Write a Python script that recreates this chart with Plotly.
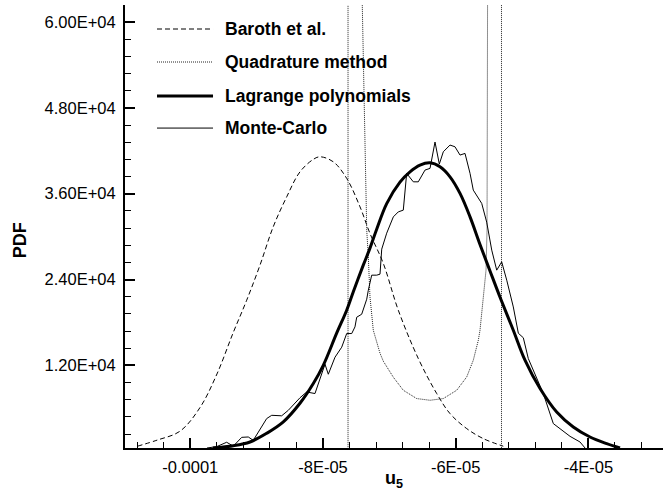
import plotly.graph_objects as go

# ---------------- data ----------------
baroth_x = [-10.80e-5, -10.50e-5, -10.155e-5, -9.854e-5, -9.598e-5, -9.357e-5, -9.150e-5,
            -8.950e-5, -8.749e-5, -8.547e-5, -8.347e-5, -8.146e-5, -8.045e-5, -7.845e-5,
            -7.643e-5, -7.442e-5, -7.292e-5, -7.091e-5, -6.865e-5, -6.564e-5, -6.286e-5,
            -6.086e-5, -5.834e-5, -5.584e-5, -5.283e-5]
baroth_y = [690, 1550, 2800, 6100, 10800, 16490, 21110, 26000, 31400, 35560, 39060, 40800,
            41160, 40460, 38140, 34160, 30440, 26250, 19710, 12960, 8060, 5260, 3160, 1760, 700]

quad_x = [-7.623e-5, -7.623e-5, -7.408e-5, -7.367e-5, -7.341e-5, -7.317e-5, -7.292e-5,
          -7.242e-5, -7.191e-5, -7.141e-5, -7.091e-5, -6.940e-5, -6.790e-5, -6.588e-5,
          -6.387e-5, -6.187e-5, -5.985e-5, -5.834e-5, -5.735e-5, -5.659e-5, -5.634e-5,
          -5.584e-5, -5.543e-5, -5.528e-5, -5.524e-5, -5.520e-5, -5.310e-5, -5.310e-5]
quad_y = [0, 1.0e6, 62380, 42520, 30900, 27170, 21570, 16910, 15380, 13700, 12580, 10340,
          8520, 7360, 7120, 7360, 8520, 10380, 12720, 15520, 16910, 21110, 25310, 30900,
          42100, 62380, 1.0e6, 0]

lag_x = [-9.66e-5, -9.352e-5, -9.100e-5, -8.849e-5, -8.598e-5, -8.347e-5, -8.146e-5,
         -7.996e-5, -7.794e-5, -7.643e-5, -7.543e-5, -7.393e-5, -7.292e-5, -7.191e-5,
         -7.040e-5, -6.840e-5, -6.689e-5, -6.538e-5, -6.387e-5, -6.237e-5, -6.086e-5,
         -5.935e-5, -5.784e-5, -5.634e-5, -5.483e-5, -5.332e-5, -5.132e-5, -4.956e-5,
         -4.729e-5, -4.478e-5, -4.228e-5, -3.976e-5, -3.724e-5, -3.524e-5]
lag_y = [450, 760, 1290, 2500, 4100, 6700, 9460, 12000, 16500, 19710, 22300, 26010, 28390,
         31040, 34620, 37620, 39060, 40000, 40320, 39760, 38360, 36040, 32760, 28900,
         25200, 21530, 16910, 12720, 8760, 5480, 3390, 1990, 1060, 450]

mc_x = [-9.748e-5, -9.602e-5, -9.452e-5, -9.352e-5, -9.225e-5, -9.126e-5, -9.051e-5,
        -8.849e-5, -8.773e-5, -8.623e-5, -8.523e-5, -8.347e-5, -8.246e-5, -8.121e-5,
        -7.970e-5, -7.920e-5, -7.819e-5, -7.718e-5, -7.643e-5, -7.567e-5, -7.518e-5,
        -7.492e-5, -7.417e-5, -7.341e-5, -7.317e-5, -7.266e-5, -7.191e-5, -7.141e-5,
        -7.115e-5, -7.040e-5, -6.940e-5, -6.865e-5, -6.790e-5, -6.739e-5, -6.639e-5,
        -6.564e-5, -6.463e-5, -6.387e-5, -6.312e-5, -6.247e-5, -6.187e-5, -6.086e-5,
        -6.011e-5, -5.935e-5, -5.860e-5, -5.784e-5, -5.735e-5, -5.659e-5, -5.608e-5,
        -5.533e-5, -5.457e-5, -5.382e-5, -5.307e-5, -5.231e-5, -5.132e-5, -5.056e-5,
        -4.981e-5, -4.906e-5, -4.680e-5, -4.529e-5, -4.428e-5, -4.277e-5, -4.127e-5,
        -4.051e-5]
mc_y = [450, 640, 1250, 710, 1940, 1990, 1520, 4560, 5020, 4950, 5720, 7470, 8280, 8060,
        12160, 10760, 13140, 14540, 16450, 16450, 17380, 18730, 19150, 21250, 22510, 24610,
        24610, 24750, 28250, 30480, 32760, 33460, 33700, 38840, 37660, 37660, 39300, 39540,
        43220, 40140, 41860, 42800, 42560, 41400, 41630, 38840, 36500, 35340, 34640, 32020,
        28110, 25310, 26470, 23910, 20170, 16490, 15860, 12950, 8060, 3860, 3160, 2080,
        1290, 450]

x_tickvals = [-1.0e-4, -8.0e-5, -6.0e-5, -4.0e-5]
x_ticktext = ["-0.0001", "-8E-05", "-6E-05", "-4E-05"]
y_tickvals = [12000, 24000, 36000, 48000, 60000]
y_ticktext = ["1.20E+04", "2.40E+04", "3.60E+04", "4.80E+04", "6.00E+04"]

legend_names = ["Baroth et al.", "Quadrature method", "Lagrange polynomials", "Monte-Carlo"]

# ---------------- styles ----------------
FONT = "Liberation Sans, Arial, Helvetica, sans-serif"
styles = [
    dict(color="black", width=1, dash="5px,3px"),
    dict(color="#222222", width=1, dash="1px,1px"),
    dict(color="black", width=3, dash="solid"),
    dict(color="black", width=1, dash="solid"),
]
shapes_ = ["spline", "linear", "spline", "linear"]

fig = go.Figure()
series = [(baroth_x, baroth_y), (quad_x, quad_y), (lag_x, lag_y), (mc_x, mc_y)]
for (xs, ys), st, name, shp in zip(series, styles, legend_names, shapes_):
    ln = dict(st)
    ln["shape"] = shp
    if shp == "spline":
        ln["smoothing"] = 1.0
    fig.add_trace(go.Scatter(x=xs, y=ys, mode="lines", name=name, line=ln,
                             showlegend=False, hoverinfo="skip"))

# manual legend (line samples + bold labels), in paper coordinates
leg_rows = [0.9458, 0.8713, 0.7945, 0.7222]
for st, name, yy in zip(styles, legend_names, leg_rows):
    fig.add_shape(type="line", xref="paper", yref="paper", x0=0.0595, x1=0.1636,
                  y0=yy, y1=yy, line=st)
    fig.add_annotation(xref="paper", yref="paper", x=0.182, y=yy, text="<b>%s</b>" % name,
                       showarrow=False, xanchor="left", yanchor="middle",
                       font=dict(family=FONT, size=17.5, color="black"))

# axis titles
fig.add_annotation(xref="paper", yref="paper", x=-0.195, y=0.469, text="<b>PDF</b>",
                   textangle=-90, showarrow=False, xanchor="center", yanchor="middle",
                   font=dict(family=FONT, size=18, color="black"))
fig.add_annotation(xref="paper", yref="paper", x=0.5, y=-0.072, text="<b>u<sub>5</sub></b>",
                   showarrow=False, xanchor="center", yanchor="middle",
                   font=dict(family=FONT, size=18, color="black"))

axis_common = dict(showline=True, linewidth=2, linecolor="black", mirror=False,
                   ticks="inside", ticklen=10, tickwidth=2, tickcolor="black",
                   showgrid=False, zeroline=False,
                   tickfont=dict(family=FONT, size=16.5, color="black"))

fig.update_xaxes(range=[-1.0984e-4, -2.876e-5], tickmode="array", tickvals=x_tickvals,
                 ticktext=x_ticktext, ticklabelstandoff=3,
                 minor=dict(ticks="inside", ticklen=6, tickwidth=1, tickcolor="black",
                            tick0=0, dtick=4e-6, showgrid=False),
                 **axis_common)
fig.update_yaxes(range=[448, 62380], tickmode="array", tickvals=y_tickvals,
                 ticktext=y_ticktext, ticklabelstandoff=4,
                 minor=dict(ticks="inside", ticklen=6, tickwidth=1, tickcolor="black",
                            tick0=0, dtick=2400, showgrid=False),
                 **axis_common)

fig.update_layout(width=672, height=495, margin=dict(l=125, r=9, t=5, b=47),
                  plot_bgcolor="white", paper_bgcolor="white", showlegend=False,
                  font=dict(family=FONT, color="black"))

fig.write_html("out.html")
